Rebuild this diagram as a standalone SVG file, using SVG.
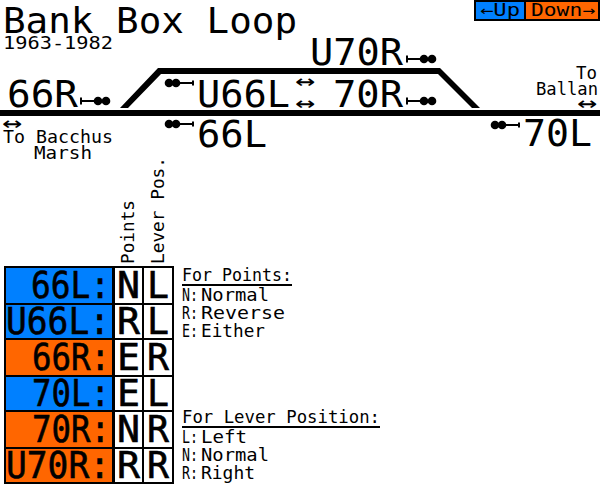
<svg xmlns="http://www.w3.org/2000/svg" width="600" height="488" viewBox="0 0 600 488">
<style>
text{font-family:"DejaVu Sans Mono","Liberation Mono",monospace;fill:#000}
.l{font-size:37px}
.c{font-size:37px;stroke:#000;stroke-width:.6px}
.s{font-size:17px}
.m{font-size:24px}
.up{fill:#0080ff}.dn{fill:#ff6600}
</style>
<defs>
<g id="sigR"><path d="M1 -3.5V3.5M0 0H18" stroke="#000" stroke-width="2" fill="none"/><circle cx="18" cy="0" r="4.3"/><circle cx="26" cy="0" r="4.3"/></g>
<g id="sigL"><path d="M28 -2.5V2.5M29 0H10" stroke="#000" stroke-width="2" fill="none"/><circle cx="11" cy="0" r="4.3"/><circle cx="4" cy="0" r="4.3"/></g>
</defs>
<g id="title"><text x="3" y="33" font-size="36" textLength="294" lengthAdjust="spacingAndGlyphs">Bank Box Loop</text><text class="s" x="3" y="49" textLength="110" lengthAdjust="spacingAndGlyphs">1963-1982</text></g>
<g id="key">
<rect x="474" y="0" width="126" height="21"/><rect class="up" x="476" y="2" width="48" height="17"/><rect class="dn" x="526" y="2" width="72" height="17"/>
<text class="s" x="480" y="16" textLength="40" lengthAdjust="spacingAndGlyphs">←Up</text><text class="s" x="531" y="16" textLength="64" lengthAdjust="spacingAndGlyphs">Down→</text>
</g>
<g id="connectors">
<rect x="0" y="110" width="600" height="6"/>
<path d="M158 68H440L480 108H472L438 74H161L128 108H120Z"/>
</g>
<g id="node-U70R"><text class="l" x="310" y="65" textLength="93" lengthAdjust="spacingAndGlyphs">U70R</text><use href="#sigR" x="406" y="59"/></g>
<g id="node-66R"><text class="l" x="7" y="107" textLength="71" lengthAdjust="spacingAndGlyphs">66R</text><use href="#sigR" x="80" y="101"/></g>
<g id="node-U66L"><use href="#sigL" x="165" y="83"/><text class="l" x="197" y="107" textLength="93" lengthAdjust="spacingAndGlyphs">U66L</text></g>
<g id="node-70R"><text class="l" x="333" y="107" textLength="70" lengthAdjust="spacingAndGlyphs">70R</text><use href="#sigR" x="406" y="101"/></g>
<g id="node-66L"><use href="#sigL" x="165" y="124"/><text class="l" x="197" y="147" textLength="70" lengthAdjust="spacingAndGlyphs">66L</text></g>
<g id="node-70L"><use href="#sigL" x="491" y="125"/><text class="l" x="523" y="146" textLength="69" lengthAdjust="spacingAndGlyphs">70L</text></g>
<g id="track-labels">
<text class="m" x="295" y="89" textLength="20" lengthAdjust="spacingAndGlyphs">↔</text>
<text class="m" x="295" y="111" textLength="20" lengthAdjust="spacingAndGlyphs">↔</text>
<text class="m" x="2" y="131" textLength="20" lengthAdjust="spacingAndGlyphs">↔</text>
<text class="s" x="3" y="143" textLength="110" lengthAdjust="spacingAndGlyphs">To Bacchus</text>
<text class="s" x="34" y="159" textLength="58" lengthAdjust="spacingAndGlyphs">Marsh</text>
<text class="s" x="576" y="79" textLength="21" lengthAdjust="spacingAndGlyphs">To</text>
<text class="s" x="536" y="95" textLength="62" lengthAdjust="spacingAndGlyphs">Ballan</text>
<text class="m" x="577" y="111" textLength="20" lengthAdjust="spacingAndGlyphs">↔</text>
</g>
<g id="headers">
<text class="s" transform="translate(134 264) rotate(-90)" textLength="64" lengthAdjust="spacingAndGlyphs">Points</text>
<text class="s" transform="translate(164 264) rotate(-90)" textLength="107" lengthAdjust="spacingAndGlyphs">Lever Pos.</text>
</g>
<g id="table">
<rect x="4" y="266" width="170" height="218"/>
<rect class="up" x="6" y="268" width="106" height="35"/><rect class="up" x="6" y="305" width="106" height="33"/><rect class="dn" x="6" y="340" width="106" height="35"/><rect class="up" x="6" y="377" width="106" height="33"/><rect class="dn" x="6" y="412" width="106" height="35"/><rect class="dn" x="6" y="449" width="106" height="33"/>
<g fill="#fff">
<rect x="115" y="268" width="27" height="35"/><rect x="144" y="268" width="28" height="35"/>
<rect x="115" y="305" width="27" height="33"/><rect x="144" y="305" width="28" height="33"/>
<rect x="115" y="340" width="27" height="35"/><rect x="144" y="340" width="28" height="35"/>
<rect x="115" y="377" width="27" height="33"/><rect x="144" y="377" width="28" height="33"/>
<rect x="115" y="412" width="27" height="35"/><rect x="144" y="412" width="28" height="35"/>
<rect x="115" y="449" width="27" height="33"/><rect x="144" y="449" width="28" height="33"/>
</g>
<g id="row-66L"><text class="c" x="31" y="298" textLength="79" lengthAdjust="spacingAndGlyphs">66L:</text><text class="c" x="117" y="298" textLength="23" lengthAdjust="spacingAndGlyphs">N</text><text class="c" x="147" y="298" textLength="22" lengthAdjust="spacingAndGlyphs">L</text></g>
<g id="row-U66L"><text class="c" x="6" y="334" textLength="104" lengthAdjust="spacingAndGlyphs">U66L:</text><text class="c" x="117" y="334" textLength="23" lengthAdjust="spacingAndGlyphs">R</text><text class="c" x="147" y="334" textLength="22" lengthAdjust="spacingAndGlyphs">L</text></g>
<g id="row-66R"><text class="c" x="32" y="370" textLength="78" lengthAdjust="spacingAndGlyphs">66R:</text><text class="c" x="117" y="370" textLength="23" lengthAdjust="spacingAndGlyphs">E</text><text class="c" x="147" y="370" textLength="22" lengthAdjust="spacingAndGlyphs">R</text></g>
<g id="row-70L"><text class="c" x="32" y="406" textLength="78" lengthAdjust="spacingAndGlyphs">70L:</text><text class="c" x="117" y="406" textLength="23" lengthAdjust="spacingAndGlyphs">E</text><text class="c" x="147" y="406" textLength="22" lengthAdjust="spacingAndGlyphs">L</text></g>
<g id="row-70R"><text class="c" x="32" y="442" textLength="78" lengthAdjust="spacingAndGlyphs">70R:</text><text class="c" x="117" y="442" textLength="23" lengthAdjust="spacingAndGlyphs">N</text><text class="c" x="147" y="442" textLength="22" lengthAdjust="spacingAndGlyphs">R</text></g>
<g id="row-U70R"><text class="c" x="6" y="478" textLength="104" lengthAdjust="spacingAndGlyphs">U70R:</text><text class="c" x="117" y="478" textLength="23" lengthAdjust="spacingAndGlyphs">R</text><text class="c" x="147" y="478" textLength="22" lengthAdjust="spacingAndGlyphs">R</text></g>
</g>
<g id="legend">
<text class="s" x="182" y="281" textLength="110" lengthAdjust="spacingAndGlyphs">For Points:</text><rect x="182" y="284" width="110" height="2"/>
<text class="s" x="182" y="301" textLength="16" lengthAdjust="spacingAndGlyphs">N:</text><text class="s" x="201" y="301" textLength="68" lengthAdjust="spacingAndGlyphs">Normal</text>
<text class="s" x="182" y="319" textLength="16" lengthAdjust="spacingAndGlyphs">R:</text><text class="s" x="201" y="319" textLength="84" lengthAdjust="spacingAndGlyphs">Reverse</text>
<text class="s" x="182" y="337" textLength="16" lengthAdjust="spacingAndGlyphs">E:</text><text class="s" x="201" y="337" textLength="64" lengthAdjust="spacingAndGlyphs">Either</text>
<text class="s" x="182" y="423" textLength="198" lengthAdjust="spacingAndGlyphs">For Lever Position:</text><rect x="182" y="426" width="198" height="2"/>
<text class="s" x="182" y="443" textLength="16" lengthAdjust="spacingAndGlyphs">L:</text><text class="s" x="201" y="443" textLength="46" lengthAdjust="spacingAndGlyphs">Left</text>
<text class="s" x="182" y="461" textLength="16" lengthAdjust="spacingAndGlyphs">N:</text><text class="s" x="201" y="461" textLength="68" lengthAdjust="spacingAndGlyphs">Normal</text>
<text class="s" x="182" y="479" textLength="16" lengthAdjust="spacingAndGlyphs">R:</text><text class="s" x="201" y="479" textLength="54" lengthAdjust="spacingAndGlyphs">Right</text>
</g>
</svg>
